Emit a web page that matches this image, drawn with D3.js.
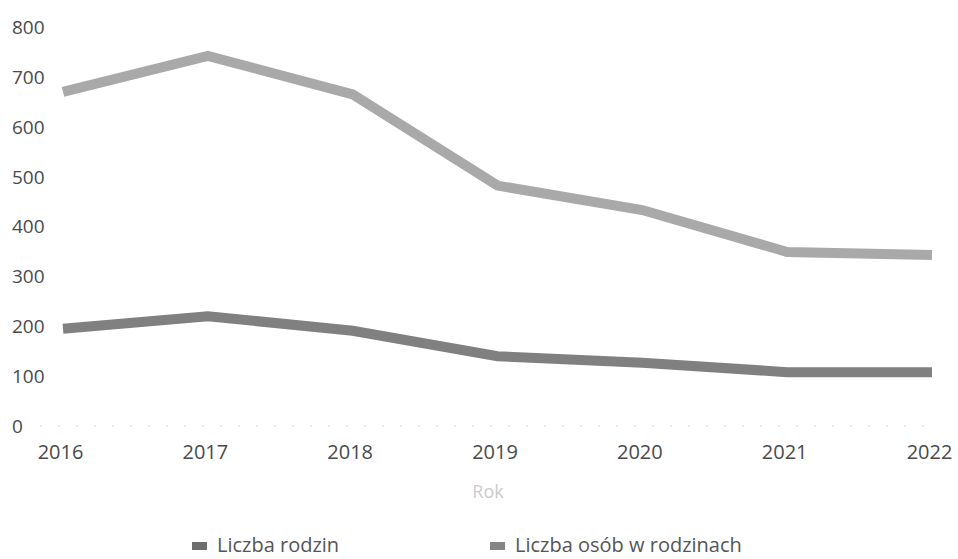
<!DOCTYPE html>
<html><head><meta charset="utf-8">
<script src="https://cdn.jsdelivr.net/npm/d3@7/dist/d3.min.js"></script>
<style>body{margin:0;background:#fff}svg{display:block}</style>
</head><body>
<svg id="c" width="958" height="559"></svg>
<script>
const years = ["2016","2017","2018","2019","2020","2021","2022"];
const rodziny = [195, 220, 191, 140, 127, 108, 108];
const osoby = [670, 742, 665, 482, 433, 349, 343];
const yTicks = [0,100,200,300,400,500,600,700,800];
const seriesNames = ["Liczba rodzin", "Liczba osób w rodzinach"];
const xTitle = "Rok";

const svg = d3.select("#c");
const font = "'Open Sans', 'Noto Sans', sans-serif";
const x = d3.scalePoint().domain(years).range([63, 932]);
const y = d3.scaleLinear().domain([0, 800]).range([426, 27]);

// faint dotted baseline
svg.append("line").attr("x1", 40).attr("x2", 935).attr("y1", y(0)).attr("y2", y(0))
  .attr("stroke", "#d6d6d6").attr("stroke-width", 1).attr("stroke-dasharray", "2,16");

// y axis labels
const yAxis = d3.axisLeft(y).tickValues(yTicks).tickSize(0).tickPadding(0);
const gy = svg.append("g").attr("transform", "translate(12,0)").call(yAxis);
gy.select(".domain").remove();
gy.selectAll("text").attr("text-anchor", "start").attr("font-family", font)
  .attr("font-size", 19).attr("fill", "#4a4a4a").attr("dy", "0.34em");

// x axis labels
const xAxis = d3.axisBottom(x).tickSize(0).tickPadding(0);
const gx = svg.append("g").attr("transform", `translate(-3,${y(0) + 19})`).call(xAxis);
gx.select(".domain").remove();
gx.selectAll("text").attr("font-family", font).attr("font-size", 20).attr("fill", "#4a4a4a");

// x title
svg.append("text").attr("x", 488).attr("y", 498).attr("text-anchor", "middle")
  .attr("font-family", font).attr("font-size", 18).attr("fill", "#cbcbcb").text(xTitle);

const line = d3.line().x((d, i) => x(years[i])).y(d => y(d));
const series = [
  {name: seriesNames[0], values: rodziny, color: "#808080"},
  {name: seriesNames[1], values: osoby, color: "#a9a9a9"}
];
series.forEach(s => {
  svg.append("path").attr("d", line(s.values)).attr("fill", "none")
    .attr("stroke", s.color).attr("stroke-width", 10).attr("stroke-linejoin", "miter");
});

// legend
const legX = [192, 490];
series.forEach((s, i) => {
  const g = svg.append("g").attr("transform", `translate(${legX[i]},546)`);
  g.append("rect").attr("x", 0).attr("y", -4).attr("width", 15).attr("height", 8)
    .attr("fill", i === 0 ? "#6e6e6e" : "#858585");
  g.append("text").attr("x", 25).attr("y", 6).attr("font-family", font)
    .attr("font-size", 20).attr("fill", "#555").text(s.name);
});
</script>
</body></html>
